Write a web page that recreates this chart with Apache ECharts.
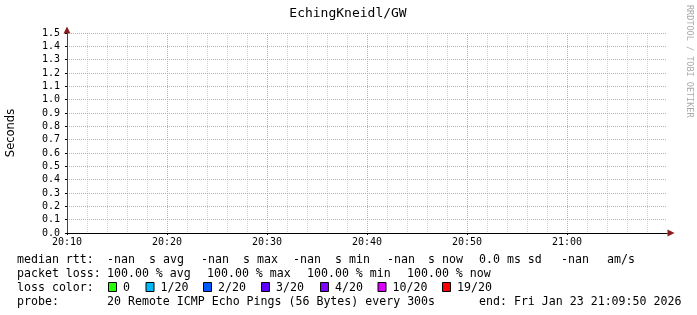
<!DOCTYPE html>
<html>
<head>
<meta charset="utf-8">
<script src="https://cdn.jsdelivr.net/npm/echarts@6/dist/echarts.min.js"></script>
<style>
  html, body { margin: 0; background: #fff; }
  #chart { width: 697px; height: 315px; }
</style>
</head>
<body>
<div id="chart"></div>
<script>
// samples every 300s, minutes since midnight (20:10 .. 21:10)
const sampleMinutes = [1210, 1215, 1220, 1225, 1230, 1235, 1240, 1245, 1250, 1255, 1260, 1265, 1270];
// all pings lost -> no median rtt
const medianRtt = [null, null, null, null, null, null, null, null, null, null, null, null, null];

const titleText = 'EchingKneidl/GW';
const rttRow = ['median rtt:', '-nan', 's avg', '-nan', 's max', '-nan', 's min', '-nan', 's now', '0.0 ms sd', '-nan', 'am/s'];
const lossRow = ['packet loss:', '100.00 % avg', '100.00 % max', '100.00 % min', '100.00 % now'];
const lossLabels = ['0', '1/20', '2/20', '3/20', '4/20', '10/20', '19/20'];
const lossColors = ['#26ff00', '#00b8ff', '#0059ff', '#5e00ff', '#7e00ff', '#dd00ff', '#ff0000'];
const probeRow = ['probe:', '20 Remote ICMP Echo Pings (56 Bytes) every 300s', 'end: Fri Jan 23 21:09:50 2026'];

const MONO = '"DejaVu Sans Mono", monospace';
const MGRID = '#e99a9a'; // major grid, rrdtool MGRID on white
const GRID = '#d2d2d2';  // minor grid
const ARROW = '#8a1c1c';

const chart = echarts.init(document.getElementById('chart'), null, { renderer: 'canvas' });

const pad2 = (n) => String(n).padStart(2, '0');
const fmtTime = (m) => pad2(Math.floor(m / 60)) + ':' + pad2(m % 60);

// legend text helper (rrdtool places each gprint chunk on its own)
function txt(str, x, y) {
  return {
    type: 'text', x: x, y: y, silent: true,
    style: {
      text: str, font: '11.6px ' + MONO, fill: '#000',
      align: 'left', textAlign: 'left', verticalAlign: 'middle', textVerticalAlign: 'middle'
    }
  };
}

const graphics = [];
graphics.push({
  type: 'text', x: 348, y: 14, silent: true,
  style: { text: titleText, font: '13px ' + MONO, fill: '#000',
    align: 'center', textAlign: 'center', verticalAlign: 'middle', textVerticalAlign: 'middle' }
});
graphics.push({
  type: 'text', x: 689.5, y: 5, rotation: -Math.PI / 2, silent: true,
  style: { text: 'RRDTOOL / TOBI OETIKER', font: '8.5px ' + MONO, fill: '#aaaaaa',
    align: 'left', textAlign: 'left', verticalAlign: 'middle', textVerticalAlign: 'middle' }
});

const rttX = [17, 107, 149, 201, 243, 293, 335, 387, 428, 479, 561, 607];
rttRow.forEach((s, i) => graphics.push(txt(s, rttX[i], 259.5)));

const lossX = [17, 107, 207, 307, 407];
lossRow.forEach((s, i) => graphics.push(txt(s, lossX[i], 273.5)));

graphics.push(txt('loss color:', 17, 287.5));
const boxX = [108, 145.5, 203, 261, 320, 377.5, 442];
lossLabels.forEach((s, i) => {
  graphics.push({
    type: 'rect', silent: true,
    shape: { x: boxX[i] + 0.5, y: 282.5, width: 8, height: 9 },
    style: { fill: lossColors[i], stroke: '#000', lineWidth: 1 }
  });
  graphics.push(txt(s, boxX[i] + 15, 287.5));
});

const probeX = [17, 107, 479];
probeRow.forEach((s, i) => graphics.push(txt(s, probeX[i], 301.5)));

const option = {
  backgroundColor: '#fff',
  animation: false,
  grid: { left: 67, top: 33, width: 600, height: 200, containLabel: false, outerBoundsMode: 'none' },
  xAxis: [
    {
      // major: labels every 10 min, red dotted grid
      type: 'value', position: 'bottom', min: 1210, max: 1270, interval: 10, z: 3,
      axisLine: { onZero: false, lineStyle: { color: '#000', width: 1 } },
      axisTick: { show: true, length: 2, lineStyle: { color: '#000' } },
      axisLabel: {
        formatter: fmtTime, margin: 4, color: '#000',
        fontFamily: MONO, fontSize: 10, showMaxLabel: false
      },
      splitLine: { show: true, showMaxLine: false, lineStyle: { color: MGRID, type: [1, 1], width: 1 } }
    },
    {
      // minor: grey grid every 2 min + arrow
      type: 'value', position: 'bottom', min: 1210, max: 1270, interval: 2, z: 1,
      axisLine: {
        onZero: false, symbol: ['none', 'triangle'], symbolSize: [7, 7], symbolOffset: [0, 4],
        lineStyle: { color: ARROW, width: 1 }
      },
      axisTick: { show: false },
      axisLabel: { show: false },
      splitLine: { show: true, showMaxLine: false, lineStyle: { color: GRID, type: [1, 1], width: 1 } }
    }
  ],
  yAxis: [
    {
      type: 'value', position: 'left', min: 0, max: 1.5, interval: 0.1, z: 3,
      name: 'Seconds', nameLocation: 'middle', nameRotate: 90, nameGap: 50,
      nameTextStyle: { fontFamily: '"DejaVu Sans", sans-serif', fontSize: 11.5, color: '#000' },
      axisLine: { show: true, onZero: false, lineStyle: { color: '#444', width: 1 } },
      axisTick: { show: true, length: 2, lineStyle: { color: '#000' } },
      axisLabel: {
        formatter: (v) => v.toFixed(1), margin: 7, color: '#000',
        fontFamily: MONO, fontSize: 10
      },
      splitLine: { show: true, lineStyle: { color: MGRID, type: [1, 1], width: 1 } }
    },
    {
      // only carries the arrow at the top
      type: 'value', position: 'left', offset: 0, min: 0, max: 1.5, interval: 0.1, z: 1,
      axisLine: {
        show: true, onZero: false, symbol: ['none', 'triangle'], symbolSize: [7, 7], symbolOffset: [0, 3],
        lineStyle: { color: ARROW, width: 1 }
      },
      axisTick: { show: false },
      axisLabel: { show: false },
      splitLine: { show: false }
    }
  ],
  series: [
    {
      name: 'median rtt', type: 'line', xAxisIndex: 0, yAxisIndex: 0,
      data: sampleMinutes.map((t, i) => [t, medianRtt[i]]),
      showSymbol: false, connectNulls: false,
      lineStyle: { color: '#00c000', width: 1 }
    }
  ],
  graphic: graphics
};

chart.setOption(option);
</script>
</body>
</html>
